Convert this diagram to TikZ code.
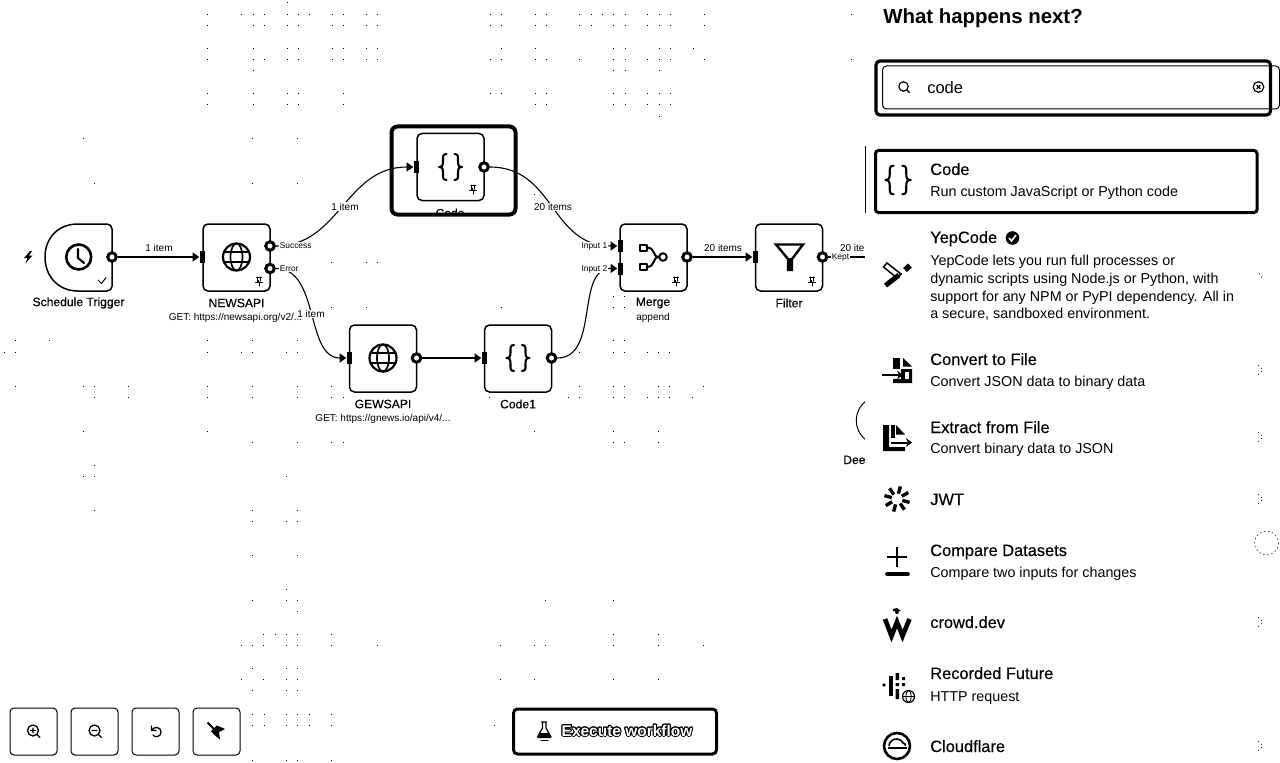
\documentclass[tikz,border=0pt]{standalone}
\usepackage{fontspec}
\setmainfont{Liberation Sans}
\newfontfamily\medfont[FakeBold=0.35]{Liberation Sans}
\usepackage{contour}
\contourlength{0.75pt}
\usetikzlibrary{arrows.meta,calc}
\newcommand{\fsz}[1]{\fontsize{#1}{#1}\selectfont}
\newlength{\pxu}\setlength{\pxu}{0.75pt}
\tikzset{
  x=0.75pt,y=-0.75pt,
  wf/.style={draw=black,fill=white,line width=1.5*\pxu,rounded corners=5*\pxu,minimum width=67*\pxu,minimum height=67*\pxu,inner sep=0pt},
  outdot/.style={circle,draw=black,fill=white,line width=3*\pxu,minimum size=8.5*\pxu,inner sep=0pt},
  inbar/.style={rectangle,fill=black,minimum width=5*\pxu,minimum height=12*\pxu,inner sep=0pt},
  conn/.style={draw=black,line width=1.1*\pxu,-{Triangle[length=4.9pt,width=6.75pt]}},
  plainconn/.style={draw=black,line width=1.1*\pxu},
  nodename/.style={font=\medfont\fsz{9.1pt},inner sep=0pt,text=black},
  nodesub/.style={font=\fsz{7.5pt},inner sep=0pt,text=black},
  edgelabel/.style={font=\fsz{7.5pt},fill=white,inner sep=0.6pt,text=black},
  portlabel/.style={font=\fsz{6.3pt},fill=white,inner sep=0.4pt,text=black},
  itemtitle/.style={font=\medfont\fsz{12.3pt},anchor=base west,inner sep=0pt,text=black},
  itemdesc/.style={font=\fsz{10.75pt},anchor=base west,inner sep=0pt,text=black},
  icon/.style={draw=black,line width=2*\pxu,line cap=round,line join=round},
  toolbtn/.style={draw=black,fill=white,line width=1*\pxu,rounded corners=4*\pxu,minimum width=47*\pxu,minimum height=47*\pxu,inner sep=0pt},
  chev/.style={draw=black,line width=0.5*\pxu,dash pattern=on 1.1pt off 2pt},
}
\newcommand{\globeicon}[2]{\begin{scope}[shift={(#1,#2)}]
 \draw[icon,line width=2.2*\pxu] (0,0) circle[radius=13.5];
 \draw[icon,line width=1.7*\pxu] (0,0) ellipse[x radius=6,y radius=13.5];
 \draw[icon,line width=1.7*\pxu] (-12,-5)--(12,-5) (-12,5)--(12,5);
\end{scope}}
\newcommand{\bracesicon}[3]{\begin{scope}[shift={(#1,#2)},scale=#3]
 \foreach \sgn in {1,-1}{
 \begin{scope}[xscale=\sgn]
 \draw[icon,line width=2.1*\pxu] (-4,-13) .. controls (-8,-13) and (-7.5,-10) .. (-7.5,-6) .. controls (-7.5,-2) and (-8,0) .. (-11.5,0) .. controls (-8,0) and (-7.5,2) .. (-7.5,6) .. controls (-7.5,10) and (-8,13) .. (-4,13);
 \end{scope}}
\end{scope}}
\newcommand{\pinicon}[2]{\begin{scope}[shift={(#1,#2)}]
 \draw[icon,line width=1*\pxu] (-2.5,-4)--(2.5,-4) (-1.7,-4)--(-1.7,0) (1.7,-4)--(1.7,0) (-3.5,1)--(3.5,1) (0,1)--(0,5);
 \fill (-2,-1) rectangle (-0.5,1);
\end{scope}}
\begin{document}
\begin{tikzpicture}
\useasboundingbox (0,0) rectangle (1280,763);
\fill[white] (0,0) rectangle (1280,763);
% canvas dots
\foreach \yy/\xs in {
 2.7/{287},
 14/{207,241,253,264,287,298,309,332,343,366,377,490,501,535,546,579,591,602,613,625,647,659,670,704,851},
 25.3/{207,253,264,287,298,332,343,366,377,490,501,535,546,579,591,613,625,647,659,670,704},
 48/{207,253,287,298,332,343,366,377,501,535,613,625,659,670,693},
 59.3/{207,253,264,287,298,332,343,366,377,490,501,535,546,579,613,625,647,659,670,704,851},
 70.7/{253,613,625,659},
 93.3/{207,253,287,298,343,490,501,535,546,613,625,647,659,670},
 104.7/{207,253,287,298,343,535,546,613,625,647,659,670},
 116/{659},
 138.3/{83,252,297},
 183/{94,252,297},
 194/{534},
 262/{331,366,377},
 296/{613,624},
 307/{331,366,501,613,624},
 340.7/{15,49,207,252,297,613,624},
 352/{4,15,207,241,252,286,297,579,613,624,647,658,669},
 386/{15,83,94,128,207,252,297,331,579,613,624,658,669,703},
 397/{94,128,207,252,297,331,343,489,568,579,613,624,647,658,669,692},
 431/{83,207,534,613,658},
 442/{252,297,331,343,613,624,658},
 465/{94},
 476/{83,94,286},
 510/{94,252,297},
 521/{252,286,297},
 555/{252,297},
 589/{286},
 600/{252,286,297,545,613},
 611/{297},
 634/{263,275,286,297,331,613,658},
 645/{241,252,263,286,297,331,377,500,534,545,613,658,703},
 668/{252,286,297},
 679/{241,263,286,297,500,534,613,658},
 690/{252,286,297},
 714/{252,264,286,297,309,331},
 725/{252,264,286,297,309,331,494},
 760/{252,286,297,331}%
}{\foreach \xx in \xs {\fill[black] (\xx-0.45,\yy-0.45) rectangle (\xx+0.45,\yy+0.45);}}

% Schedule trigger
\draw[draw=black,fill=white,line width=1.5*\pxu] (112,229) arc[start angle=0,end angle=-90,radius=5] -- (78,224) .. controls (58,224) and (45,238) .. (45,257) .. controls (45,276) and (58,291) .. (78,291) -- (107,291) arc[start angle=90,end angle=0,radius=5] -- cycle;
% other nodes
\node[wf] (newsapi) at (236.5,257.5) {};
\node[wf] (code) at (450.5,167) {};
\node[wf] (gewsapi) at (383,358.5) {};
\node[wf] (codeone) at (518,358.5) {};
\node[wf] (merge) at (653.5,257.5) {};
\node[wf] (filter) at (789,257.5) {};
% ports
\node[outdot] (schedout) at (112,257) {};
\node[outdot] (newsok) at (270,246) {};
\node[outdot] (newserr) at (270,268.5) {};
\node[inbar] (newsin) at (202,257) {};
\node[inbar] (codein) at (416,167) {};
\node[outdot] (codeout) at (484,167) {};
\node[inbar] (gewsin) at (349,358) {};
\node[outdot] (gewsout) at (416.5,358) {};
\node[inbar] (codeonein) at (484,358) {};
\node[outdot] (codeoneout) at (551.5,358) {};
\node[inbar] (mergeina) at (620,246) {};
\node[inbar] (mergeinb) at (620,268.5) {};
\node[outdot] (mergeout) at (687,257) {};
\node[inbar] (filterin) at (755,257) {};
\node[outdot] (filterout) at (822.5,257) {};
\coordinate (offpanel) at (870,257);
% connectors
\draw[conn] (schedout) -- (newsin);
\draw[conn] (newsok.east) .. controls (340,246) and (345,167) .. (codein.west);
\draw[conn] (newserr.east) .. controls (320,268) and (305,358) .. (gewsin.west);
\draw[conn] (gewsout) -- (codeonein);
\draw[conn] (codeout.east) .. controls (555,167) and (550,246) .. (mergeina.west);
\draw[conn] (codeoneout.east) .. controls (600,358) and (575,268) .. (mergeinb.west);
\draw[conn] (mergeout) -- (filterin);
\draw[plainconn] (filterout) -- (offpanel);
% edge labels
\node[edgelabel] (la) at (159,248) {1 item};
\node[edgelabel] (lb) at (345,206.5) {1 item};
\node[edgelabel] (lc) at (311,314) {1 item};
\node[edgelabel] (ld) at (553,207) {20 items};
\node[edgelabel] (le) at (723,248) {20 items};
\node[edgelabel,anchor=west] (lf) at (839,248) {20 items};
\node[portlabel,anchor=west] (pa) at (279,246) {Success};
\node[portlabel,anchor=west] (pb) at (279,269) {Error};
\node[portlabel,anchor=east] (pc) at (608,246) {Input 1};
\node[portlabel,anchor=east] (pd) at (608,269) {Input 2};
\node[portlabel,anchor=west] (pe) at (831,257) {Kept};
% names
\node[nodename] (na) at (78.5,303) {Schedule Trigger};
\node[nodename] (nb) at (236.5,303) {NEWSAPI};
\node[nodesub] (nc) at (235.5,318) {GET: https://newsapi.org/v2/...};
\node[nodename] (nd) at (383,404) {GEWSAPI};
\node[nodesub] (ne) at (383,419) {GET: https://gnews.io/api/v4/...};
\node[nodename] (nf) at (518,404) {Code1};
\node[nodename] (ng) at (653,303) {Merge};
\node[nodesub] (nh) at (653,318) {append};
\node[nodename] (ni) at (789,303) {Filter};
\begin{scope}
 \clip (380,200) rectangle (530,213.5);
 \node[nodename] (nj) at (450,213) {Code};
\end{scope}
\draw[draw=black,line width=4*\pxu,rounded corners=6*\pxu] (391.5,126.5) rectangle (515.5,214.5);
% icons on the canvas
\fill[black] (30,251) -- (24,258) -- (27.5,258) -- (25.5,263.5) -- (32.5,255.5) -- (29,255.5) -- (32,251) -- cycle;
\draw[icon,line width=2.6*\pxu] (78.7,257) circle[radius=12.5];
\draw[icon,line width=2.2*\pxu] (78,249) -- (78,258) -- (84,263);
\draw[draw=black,line width=1*\pxu] (98,280) -- (101.5,283.5) -- (106,277.5);
\globeicon{236.5}{257}
\globeicon{383}{358}
\bracesicon{450.5}{167}{1}
\bracesicon{518}{358}{1}
\pinicon{259}{281}
\pinicon{473}{189}
\pinicon{676}{281}
\pinicon{812}{281}
% merge icon
\draw[icon,line width=2*\pxu] (640,244.5) rectangle (646.5,250.5) (640,264) rectangle (646.5,270);
\draw[icon,line width=2*\pxu] (646.5,247.5) .. controls (656,247.5) and (652,257) .. (659,257) (646.5,267) .. controls (656,267) and (652,257) .. (659,257);
\draw[icon,line width=2*\pxu] (663,257) circle[radius=3.8];
% filter icon
\draw[draw=black,line width=2.4*\pxu,line join=miter] (776,244.5) -- (803,244.5) -- (792,259) -- (792,270) -- (788,270) -- (788,259) -- cycle;
\fill[black] (787.5,258) rectangle (792.5,270);
% arc of the hidden node and its name
\draw[draw=black,line width=1*\pxu] (866,401) .. controls (853,411) and (853,430) .. (866,440);
\node[nodename,anchor=base west] (nk) at (843,464) {Dee};

% right panel
\fill[white] (865,0) rectangle (1280,763);
\node[font=\fsz{15.3pt}\bfseries,anchor=base west,inner sep=0pt] (title) at (883,23.5) {What happens next?};
% search
\draw[draw=black,line width=1*\pxu,rounded corners=4*\pxu] (882.5,66) rectangle (1279.5,109);
\draw[draw=black,line width=3.2*\pxu,rounded corners=4*\pxu] (876,61) rectangle (1270.5,115);
\draw[icon,line width=1.2*\pxu] (903.5,86.5) circle[radius=4.7] (907,90) -- (909.5,92.5);
\node[font=\fsz{12.4pt},anchor=base west,inner sep=0pt] (search) at (927,93.5) {code};
\draw[icon,line width=1.2*\pxu] (1258.5,87) circle[radius=5.3] (1256.8,85.3) -- (1260.2,88.7) (1260.2,85.3) -- (1256.8,88.7);
% items
\draw[draw=black,line width=1.2*\pxu] (865.5,146) -- (865.5,213);
\draw[draw=black,line width=3*\pxu,rounded corners=3*\pxu] (875.5,150.5) rectangle (1257,212.5);
\bracesicon{898}{180}{1.1}
\node[itemtitle] (ia) at (930,175) {Code};
\node[itemdesc] (ib) at (930,196) {Run custom JavaScript or Python code};
\node[itemtitle] (ic) at (930,243) {YepCode};
\fill[black] (1012.5,238) circle[radius=6.8];
\draw[draw=white,line width=1.6*\pxu] (1009,238) -- (1011.5,241) -- (1016,235);
\node[itemdesc] (id) at (930,265) {YepCode lets you run full processes or};
\node[itemdesc] (ie) at (930,283) {dynamic scripts using Node.js or Python, with};
\node[itemdesc] (if) at (930,301) {support for any NPM or PyPI dependency. All in};
\node[itemdesc] (ig) at (930,318) {a secure, sandboxed environment.};
% yepcode icon
\draw[draw=black,line width=1.5*\pxu,fill=white] (883.5,267) -- (887,263) -- (901,274) -- (897,278) -- cycle;
\draw[draw=black,line width=5*\pxu] (885.5,285.5) -- (899,275);
\draw[draw=black,line width=5.5*\pxu] (905,270) -- (910,265.5);
% convert to file
\node[itemtitle] (ih) at (930,365) {Convert to File};
\node[itemdesc] (ii) at (930,386) {Convert JSON data to binary data};
\fill[black] (893,358) rectangle (900,369);
\fill[black] (903,358) -- (912,366.5) -- (903,366.5) -- cycle;
\fill[black] (901,369) rectangle (912,383) (893,379) rectangle (912,383);
\fill[white] (905,372) rectangle (909,379);
\draw[draw=black,line width=2.2*\pxu,-{Stealth[length=4.5pt,width=6.5pt]}] (882,375) -- (903,375);
% extract from file
\node[itemtitle] (ij) at (930,433) {Extract from File};
\node[itemdesc] (ik) at (930,453) {Convert binary data to JSON};
\fill[black] (883,425) rectangle (889,451) (883,447) rectangle (905,451);
\fill[black] (891,425) rectangle (895,447);
\fill[black] (896,425) -- (905,434.5) -- (896,434.5) -- cycle;
\fill[white] (891,438) rectangle (913,447);
\draw[draw=black,line width=2*\pxu,-{Stealth[length=4.5pt,width=6.5pt]}] (891,442.5) -- (912,442.5);
% jwt
\node[itemtitle] (il) at (930,505) {JWT};
\foreach \ang in {15,55,105,150,195,235,285,330}{
 \draw[draw=black,line width=3.4*\pxu] ($(897,499)+(\ang:5.5)$) -- ($(897,499)+(\ang:13)$);}
% compare
\node[itemtitle] (im) at (930,556) {Compare Datasets};
\node[itemdesc] (in) at (930,577) {Compare two inputs for changes};
\draw[draw=black,line width=2.4*\pxu] (887,557) -- (907,557) (897,547) -- (897,567);
\draw[draw=black,line width=3.8*\pxu,line cap=round] (887,574) -- (908,574);
% crowd
\node[itemtitle] (io) at (930,628) {crowd.dev};
\draw[draw=black,line width=4.6*\pxu,line join=miter] (885,619) -- (891.5,636) -- (897,622) -- (902.5,636) -- (909.5,619);
\fill[black] (897,612) circle[radius=2];
\fill[black] (893,609) -- (897,608) -- (901,611) -- (893,611) -- cycle;
% recorded future
\node[itemtitle] (ip) at (930,679) {Recorded Future};
\node[itemdesc] (iq) at (930,701) {HTTP request};
\fill[black] (884,685) circle[radius=1.8];
\fill[black] (889,676) rectangle (892.5,696);
\fill[black] (895.5,673) rectangle (899,680) (895.5,683) rectangle (899,686) (895.5,689) rectangle (899,699);
\fill[black] (902,683) rectangle (905,686) (902,677) rectangle (905,680);
\draw[draw=black,fill=white,line width=1.2*\pxu] (908.5,696.5) circle[radius=6];
\draw[draw=black,line width=0.9*\pxu] (908.5,696.5) ellipse[x radius=2.6,y radius=6] (902.5,696.5) -- (914.5,696.5);
% cloudflare
\node[itemtitle] (ir) at (930,752) {Cloudflare};
\draw[draw=black,line width=2.6*\pxu] (897,746) circle[radius=13];
\draw[draw=black,line width=1.6*\pxu] (889,746) .. controls (889,742) and (893,738.5) .. (897,739) .. controls (900,739) and (902,741) .. (903,743) .. controls (905,743) and (906,745) .. (905.5,746);
\draw[draw=black,line width=1.8*\pxu] (888,748) -- (907,748);
% row chevrons
\foreach \cy in {370,437,499,622,746}{
 \draw[chev] (1258,\cy-5) -- (1263,\cy) -- (1258,\cy+5);}
\draw[chev] (1259,273) -- (1262,278);
\draw[chev] (1266.5,543) circle[radius=12];
% bottom tools
\node[toolbtn] (tba) at (33.5,731.5) {};
\node[toolbtn] (tbb) at (94.5,731.5) {};
\node[toolbtn] (tbc) at (155.5,731.5) {};
\node[toolbtn] (tbd) at (216.5,731.5) {};
\draw[icon,line width=1.3*\pxu] (33,730.5) circle[radius=5.5] (37,734.5) -- (40,737.5) (30.5,730.5) -- (35.5,730.5) (33,728) -- (33,733);
\draw[icon,line width=1.3*\pxu] (94.5,730.5) circle[radius=5.5] (98.5,734.5) -- (101.5,737.5) (92,730.5) -- (97,730.5);
\draw[icon,line width=1.3*\pxu] (151.5,726) -- (151.5,730.5) -- (156,730.5) (151.5,730.5) .. controls (154,726) and (161,726.5) .. (161,732) .. controls (161,737) and (155,738) .. (153,735);
\draw[draw=black,line width=1.8*\pxu] (207.5,722.5) -- (215,730);
\fill[black] (211,731) -- (217,725.5) -- (225,729) -- (219,732) -- (220,739.5) -- (214,734.5) -- cycle;
% execute
\node[draw=black,fill=white,line width=3*\pxu,rounded corners=4*\pxu,minimum width=203*\pxu,minimum height=45*\pxu,inner sep=0pt] (exec) at (615,731.5) {};
\node[font=\fsz{11.6pt}\bfseries,inner sep=0pt] (exectxt) at (627,731) {\contour{black}{\textcolor{white}{Execute workflow}}};
\draw[icon,line width=1.3*\pxu] (541.5,722) -- (546.5,722) (542.5,722) -- (542.5,728) -- (537.5,737) -- (551,737) -- (546,728) -- (546,722);
\fill[black] (539.5,733) -- (549,733) -- (551,738) -- (538,738) -- cycle;
\draw[icon,line width=1.3*\pxu] (541,740.5) -- (548,740.5);
\end{tikzpicture}
\end{document}
